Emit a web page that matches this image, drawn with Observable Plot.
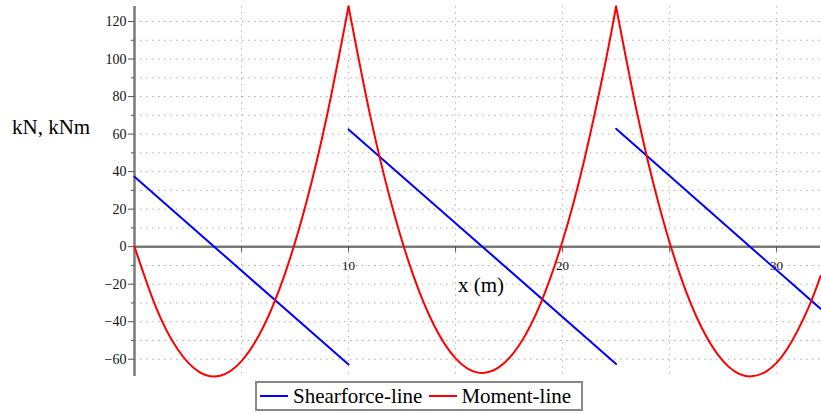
<!DOCTYPE html>
<html>
<head>
<meta charset="utf-8">
<script src="https://cdn.jsdelivr.net/npm/d3@7"></script>
<script src="https://cdn.jsdelivr.net/npm/@observablehq/plot@0.6"></script>
<style>
  body { margin: 0; background: #fff; }
  #wrap { position: relative; width: 821px; height: 414px; font-family: "Liberation Serif", "Times New Roman", serif; }
  #chart svg text { font-family: "Liberation Serif", "Times New Roman", serif !important; }
  #chart svg g[aria-label="y-axis tick label"] text { font-size: 14px !important; }
  #chart svg g[aria-label="xlabels"] text { font-size: 13px !important; }
  .lbl { position: absolute; font-size: 21px; line-height: 22px; white-space: nowrap; color: #000; }
  #legend { position: absolute; left: 255px; top: 381px; width: 324px; height: 26px; border: 2px solid #888; background: #fff;
            display: flex; align-items: center; font-size: 21px; white-space: nowrap; }
  .sw { display: inline-block; height: 2px; width: 28px; }
</style>
</head>
<body>
<div id="wrap">
  <div id="chart"></div>
  <div class="lbl" style="left:12px; top:116px;">kN, kNm</div>
  <div class="lbl" style="left:458px; top:274px;">x (m)</div>
  <div id="legend">
    <span class="sw" style="background:#0000ff; margin-left:3px;"></span>
    <span style="margin-left:5px;">Shearforce-line</span>
    <span class="sw" style="background:#ff0000; margin-left:7px;"></span>
    <span style="margin-left:4px;">Moment-line</span>
  </div>
</div>
<script>
// Shear force (kN): three linear segments
const shearX    = [0, 10, 10, 22.5, 22.5, 32.05];
const shearV    = [37.2, -62.8, 62.5, -62.5, 62.8, -33.1];
const shearSpan = [1, 1, 2, 2, 3, 3];

// Bending moment (kNm), read along each span
const momX = [
  0, 1, 2, 3, 4, 5, 6, 7, 8, 9, 10,
  10, 11, 12, 13, 14, 15, 16, 17, 18, 19, 20, 21, 22, 22.5,
  22.5, 23.5, 24.5, 25.5, 26.5, 27.5, 28.5, 29.5, 30.5, 31.5, 32.05
];
const momM = [
  0, -32.2, -54.4, -66.6, -68.8, -61, -43.2, -15.4, 22.4, 70.2, 128,
  128, 70.5, 23, -14.5, -42, -59.5, -67, -64.5, -52, -29.5, 3, 45.5, 98, 128,
  128, 70.2, 22.4, -15.4, -43.2, -61, -68.8, -66.6, -54.4, -32.2, -15.7
];
const momSpan = [
  1,1,1,1,1,1,1,1,1,1,1,
  2,2,2,2,2,2,2,2,2,2,2,2,2,2,
  3,3,3,3,3,3,3,3,3,3,3
];

// Axes / ticks
const yMajor = [-60, -40, -20, 0, 20, 40, 60, 80, 100, 120];
const yMinor = [-50, -30, -10, 10, 30, 50, 70, 90, 110];
const yGrid  = [-60, -50, -40, -30, -20, -10, 10, 20, 30, 40, 50, 60, 70, 80, 90, 100, 110, 120];
const xGrid  = [5, 10, 15, 20, 25, 30];
const xTicks = [5, 10, 15, 20, 25, 30];
const xLabels = [10, 20, 30];

const serif = "'Liberation Serif', 'Times New Roman', serif";
const shear = shearX.map((x, i) => ({x, v: shearV[i], s: shearSpan[i]}));
const moment = momX.map((x, i) => ({x, m: momM[i], s: momSpan[i]}));

const chart = Plot.plot({
  width: 821,
  height: 378,
  marginLeft: 134,
  marginRight: 1,
  marginTop: 6,
  marginBottom: 2,
  style: {fontFamily: serif, fontSize: "14px", background: "transparent", overflow: "visible"},
  x: {domain: [0, 32.05], axis: null},
  y: {domain: [-69.2, 128], axis: null},
  marks: [
    Plot.gridY(yGrid, {stroke: "#999", strokeOpacity: 0.8, strokeDasharray: "1.5,4.5"}),
    Plot.gridX(xGrid, {stroke: "#999", strokeOpacity: 0.7, strokeDasharray: "1.5,4.5"}),
    Plot.ruleY([0], {stroke: "#7a7a7a", strokeWidth: 2.5}),
    Plot.ruleX([0], {stroke: "#7a7a7a", strokeWidth: 2.5}),
    Plot.axisY(yMajor, {anchor: "left", tickSize: 6, tickPadding: 2, stroke: "#555", fill: "#111", fontSize: 14, fontFamily: serif}),
    Plot.axisY(yMinor, {anchor: "left", tickSize: 3, tickFormat: () => "", stroke: "#555"}),
    Plot.ruleX(xTicks, {x: d => d, y1: 0, y2: -3, stroke: "#555"}),
    Plot.text(xLabels, {x: d => d, y: 0, dy: 19, text: d => String(d), fontSize: 13, fill: "#111", fontFamily: serif, ariaLabel: "xlabels"}),
    Plot.line(shear, {x: "x", y: "v", z: "s", stroke: "#0000ff", strokeWidth: 2}),
    Plot.line(moment, {x: "x", y: "m", z: "s", stroke: "#ff0000", strokeWidth: 2, curve: "natural"})
  ]
});
document.getElementById("chart").appendChild(chart);
d3.select(chart).selectAll("text").style("font-family", "'Liberation Serif', 'Times New Roman', serif");
</script>
</body>
</html>
